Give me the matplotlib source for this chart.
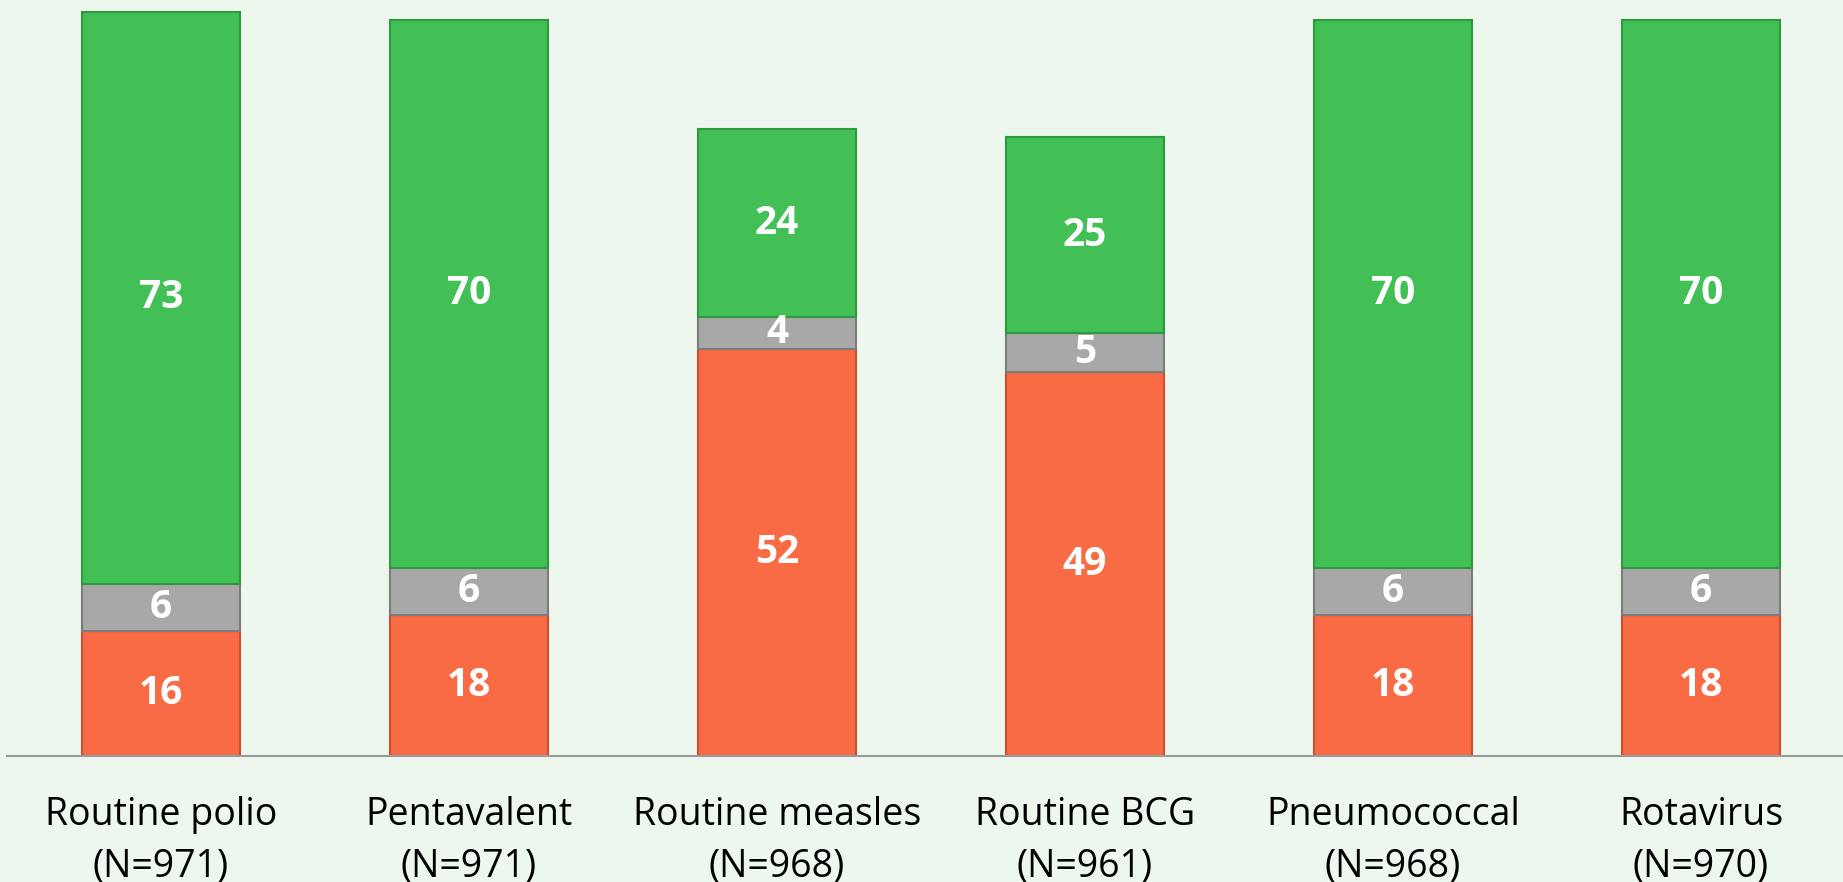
import numpy as np
import matplotlib
matplotlib.use("Agg")
import matplotlib.pyplot as plt

plt.rcParams['font.family'] = ['Open Sans', 'DejaVu Sans']

# ---- data ----
categories = ['Routine polio\n(N=971)', 'Pentavalent\n(N=971)', 'Routine measles\n(N=968)',
              'Routine BCG\n(N=961)', 'Pneumococcal\n(N=968)', 'Rotavirus\n(N=970)']
orange_vals = [16, 18, 52, 49, 18, 18]
gray_vals = [6, 6, 4, 5, 6, 6]
green_vals = [73, 70, 24, 25, 70, 70]

bg = '#EDF7EE'
fig = plt.figure(figsize=(18.43, 8.82), dpi=100, facecolor=bg)
ax = fig.add_axes([7 / 1843, 126 / 882, (1843 - 7) / 1843, 756 / 882])
ax.set_facecolor(bg)

x = np.arange(len(categories))
w = 0.51
series = [
    (orange_vals, '#F96B45', '#C8502F'),
    (gray_vals, '#A8A8A8', '#7C7C7C'),
    (green_vals, '#42BF55', '#2E9A3E'),
]
bottom = np.zeros(len(categories))
for vals, col, edge in series:
    vals = np.array(vals, dtype=float)
    ax.bar(x, vals, w, bottom=bottom, color=col, edgecolor=edge, linewidth=1.5, zorder=2)
    for xi, b, v in zip(x, bottom, vals):
        ax.text(xi, b + v / 2, f'{int(v)}', ha='center', va='center', color='white',
                fontsize=28, fontweight='bold', zorder=3)
    bottom += vals

ax.set_xlim(-0.5, (1843 - 7) / 308 - 0.5)
ax.set_ylim(0, 96.5)
ax.set_yticks([])
ax.set_xticks(x)
ax.set_xticklabels(categories, fontsize=27, linespacing=1.45)
ax.tick_params(axis='x', length=0, pad=29)
for s in ['top', 'right', 'left']:
    ax.spines[s].set_visible(False)
ax.spines['bottom'].set_color('#999999')
ax.spines['bottom'].set_linewidth(1.5)

fig.savefig('out.png', dpi=100, facecolor=bg)
